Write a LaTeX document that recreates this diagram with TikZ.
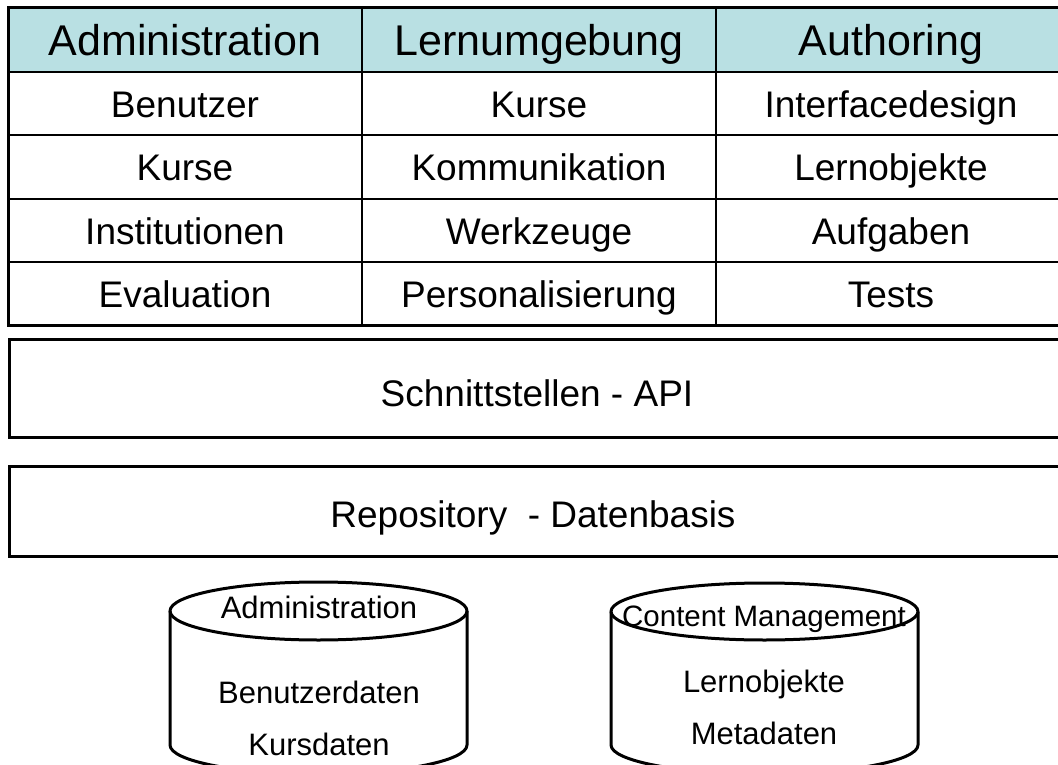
\documentclass[tikz,border=0pt]{standalone}
\usepackage{fontspec}
\setmainfont{Liberation Sans}
\definecolor{headfill}{RGB}{185,224,227}
\begin{document}
\begin{tikzpicture}[x=1pt,y=-1pt,
  hdr/.style={inner sep=0pt, anchor=center, text height=30.8pt, text depth=0pt, font=\fontsize{43}{48}\selectfont},
  cell/.style={inner sep=0pt, anchor=center, text height=26.5pt, text depth=0pt, font=\fontsize{37}{42}\selectfont},
  layertxt/.style={inner sep=0pt, anchor=center, text height=26.5pt, text depth=0pt, font=\fontsize{37}{42}\selectfont},
  dbtxt/.style={inner sep=0pt, anchor=center, text height=22.2pt, text depth=0pt, font=\fontsize{31}{36}\selectfont},
  dbsmall/.style={inner sep=0pt, anchor=center, text height=21.2pt, text depth=0pt, font=\fontsize{29.5}{34}\selectfont},
  gridline/.style={line width=2pt},
  border/.style={line width=3pt},
  dbline/.style={line width=3pt, line join=round}]
\useasboundingbox (0,0) rectangle (1058,765);
\clip (0,0) rectangle (1058,765);
% table
\fill[headfill] (8,8) rectangle (1070,72);
\foreach \yy in {72,135,199,262} \draw[gridline] (8,\yy) -- (1070,\yy);
\draw[gridline] (362,8) -- (362,325);
\draw[gridline] (716,8) -- (716,325);
\draw[border] (8,8) rectangle (1070,325);
\node[hdr] (h1) at (185,40) {Administration};
\node[hdr] (h2) at (539,40) {Lernumgebung};
\node[hdr] (h3) at (891,40) {Authoring};
\node[cell] (a1) at (185,104) {Benutzer};
\node[cell] (a2) at (185,167) {Kurse};
\node[cell] (a3) at (185,231) {Institutionen};
\node[cell] (a4) at (185,294) {Evaluation};
\node[cell] (b1) at (539,104) {Kurse};
\node[cell] (b2) at (539,167) {Kommunikation};
\node[cell] (b3) at (539,231) {Werkzeuge};
\node[cell] (b4) at (539,294) {Personalisierung};
\node[cell] (c1) at (891,104) {Interfacedesign};
\node[cell] (c2) at (891,167) {Lernobjekte};
\node[cell] (c3) at (891,231) {Aufgaben};
\node[cell] (c4) at (891,294) {Tests};
% layers
\draw[border] (9,339) rectangle (1070,437);
\node[layertxt] (api) at (537,393) {Schnittstellen - API};
\draw[border] (9,466) rectangle (1070,556);
\node[layertxt] (repo) at (533,514) {Repository \ - Datenbasis};
% cylinder 1
\draw[dbline] (170,611) -- (170,745) arc[start angle=180, end angle=360, x radius=148.5pt, y radius=29pt] -- (467,611);
\draw[dbline] (318.5,611) ellipse [x radius=148.5pt, y radius=29pt];
\node[dbtxt] (d1t) at (319,607) {Administration};
\node[dbtxt] (d1a) at (319,692) {Benutzerdaten};
\node[dbtxt] (d1b) at (319,744) {Kursdaten};
% cylinder 2
\draw[dbline] (611,611.5) -- (611,745) arc[start angle=180, end angle=360, x radius=153.5pt, y radius=29pt] -- (918,611.5);
\draw[dbline] (764.5,611.5) ellipse [x radius=153.5pt, y radius=28.5pt];
\node[dbsmall] (d2t) at (764,616) {Content Management};
\node[dbtxt] (d2a) at (764,681) {Lernobjekte};
\node[dbtxt] (d2b) at (764,733) {Metadaten};
\end{tikzpicture}
\end{document}
